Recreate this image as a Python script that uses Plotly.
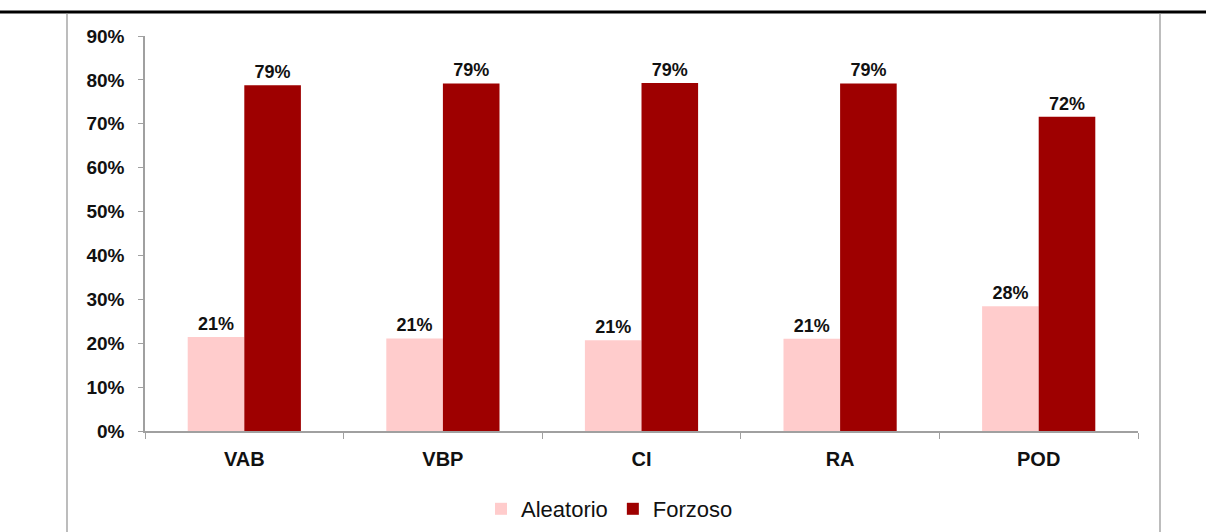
import plotly.graph_objects as go

categories = ["VAB", "VBP", "CI", "RA", "POD"]
aleatorio = [0.214, 0.211, 0.207, 0.210, 0.284]
forzoso = [0.788, 0.792, 0.793, 0.792, 0.716]
series_names = ["Aleatorio", "Forzoso"]
colors = ["#FFCCCC", "#9E0000"]

font_fam = "Liberation Sans, Arial, sans-serif"

fig = go.Figure()
for name, vals, col in zip(series_names, [aleatorio, forzoso], colors):
    fig.add_trace(go.Bar(
        x=categories, y=vals, name=name, marker=dict(color=col, line=dict(width=0)),
        texttemplate="%{y:.0%}", textposition="outside", cliponaxis=False,
        textfont=dict(family=font_fam, size=18, color="#111111", weight="bold"),
    ))

PW = 993.0
PH = 395.0

def px(x):
    return (x - 145) / PW

def py(y):
    return (431 - y) / PH

fig.update_layout(
    width=1206, height=532,
    margin=dict(l=145, r=68, t=36, b=101, autoexpand=False),
    paper_bgcolor="white", plot_bgcolor="white",
    barmode="group", bargap=0.43, bargroupgap=0,
    font=dict(family=font_fam, size=16, color="#111111"),
    showlegend=True,
    legend=dict(orientation="h", x=px(481), xanchor="left", y=py(509), yanchor="middle",
                font=dict(family=font_fam, size=22, color="#111111"),
                itemwidth=30, traceorder="normal", tracegroupgap=0),
    xaxis=dict(showline=True, linecolor="#A0A0A0", linewidth=1.5, ticks="outside",
               tickson="boundaries", ticklen=6, tickcolor="#A0A0A0",
               ticklabelstandoff=9,
               tickfont=dict(family=font_fam, size=20, weight="bold", color="#111111"),
               showgrid=False),
    yaxis=dict(range=[0, 0.9], dtick=0.1, tickformat=".0%", showline=True,
               linecolor="#A0A0A0", linewidth=1.5, ticks="outside", ticklen=5,
               tickcolor="#A0A0A0", showgrid=False, zeroline=False,
               ticklabelstandoff=10,
               tickfont=dict(family=font_fam, size=19, weight="bold", color="#111111")),
    shapes=[
        dict(type="line", xref="paper", yref="paper", x0=px(0), x1=px(1206),
             y0=py(12), y1=py(12), line=dict(color="black", width=3)),
        dict(type="line", xref="paper", yref="paper", x0=px(67), x1=px(67),
             y0=py(13), y1=py(532), line=dict(color="#909090", width=1.2)),
        dict(type="line", xref="paper", yref="paper", x0=px(1160), x1=px(1160),
             y0=py(13), y1=py(532), line=dict(color="#909090", width=1.2)),
    ],
)

fig.write_html("out.html", config={"displayModeBar": False},
               post_script="document.body.style.margin='0';document.body.style.overflow='hidden';")
